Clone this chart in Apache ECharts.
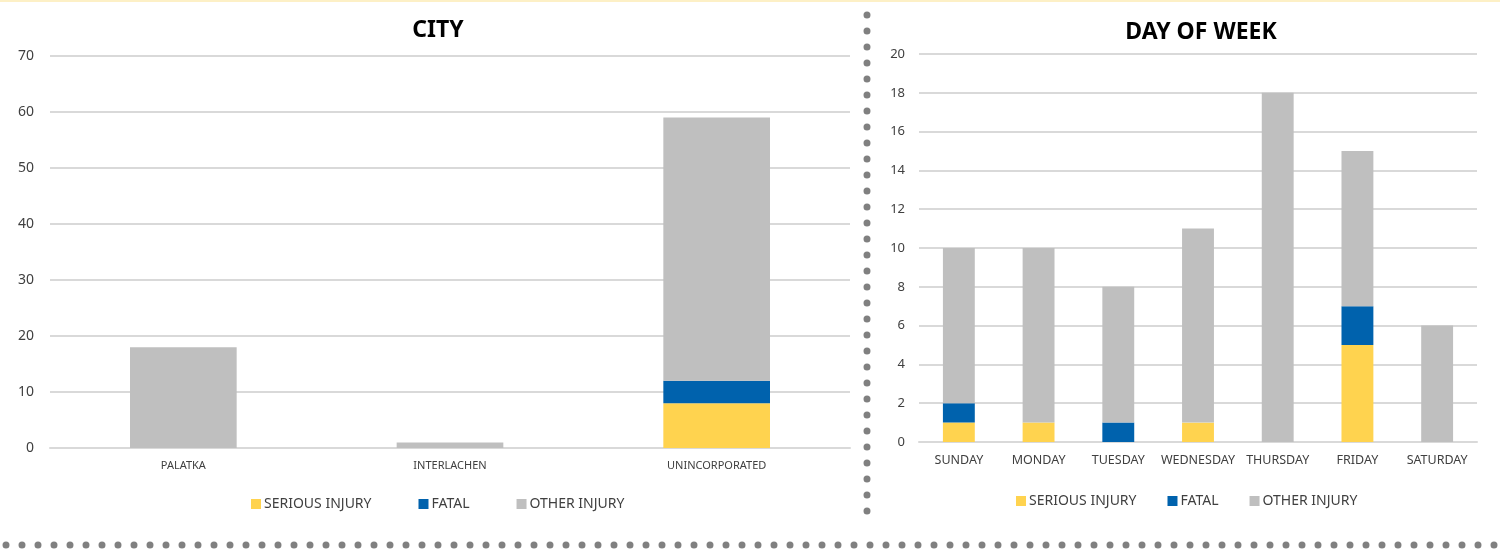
<!DOCTYPE html>
<html><head><meta charset="utf-8">
<script src="https://cdn.jsdelivr.net/npm/echarts@6/dist/echarts.min.js"></script>
<style>html,body{margin:0;padding:0;background:#fff}#c{width:1500px;height:550px}</style>
</head><body><div id="c"></div>
<script>
const cityCategories = ['PALATKA', 'INTERLACHEN', 'UNINCORPORATED'];
const citySerious = [0, 0, 8];
const cityFatal = [0, 0, 4];
const cityOther = [18, 1, 47];

const dayCategories = ['SUNDAY', 'MONDAY', 'TUESDAY', 'WEDNESDAY', 'THURSDAY', 'FRIDAY', 'SATURDAY'];
const daySerious = [1, 1, 0, 1, 0, 5, 0];
const dayFatal = [1, 0, 1, 0, 0, 2, 0];
const dayOther = [8, 9, 7, 10, 18, 8, 6];

const seriesNames = ['SERIOUS INJURY', 'FATAL', 'OTHER INJURY'];
const colors = ['#FFD34F', '#0062AD', '#BFBFBF'];
const FONT = 'Noto Sans';
const chart = echarts.init(document.getElementById('c'));

function mk(name, data, idx, stack, color) {
  return { name, type: 'bar', stack, xAxisIndex: idx, yAxisIndex: idx, data,
    barWidth: '40%', itemStyle: { color }, emphasis: { disabled: true } };
}
const dotStyle = { stroke: '#808080', lineWidth: 7, lineCap: 'round', lineDash: [0, 16] };

chart.setOption({
  animation: false,
  textStyle: { fontFamily: FONT },
  title: [
    { text: 'CITY', left: 433, top: 14, textAlign: 'center', textStyle: { fontFamily: FONT, fontSize: 23, fontWeight: 'bold', color: '#000' } },
    { text: 'DAY OF WEEK', left: 1196, top: 16, textAlign: 'center', textStyle: { fontFamily: FONT, fontSize: 23, fontWeight: 'bold', color: '#000' } }
  ],
  legend: [
    { data: seriesNames, left: 246, top: 492, itemWidth: 10, itemHeight: 10, itemGap: 47, icon: 'rect',
      textStyle: { fontFamily: FONT, fontSize: 14, color: '#404040', padding: [0, 0, 0, -2] } },
    { data: seriesNames, left: 1011, top: 489, itemWidth: 10, itemHeight: 10, itemGap: 31, icon: 'rect',
      textStyle: { fontFamily: FONT, fontSize: 14, color: '#404040', padding: [0, 0, 0, -2] } }
  ],
  grid: [
    { left: 50, right: 650, top: 56, bottom: 102 },
    { left: 919, right: 23, top: 54, bottom: 108 }
  ],
  xAxis: [
    { type: 'category', gridIndex: 0, data: cityCategories,
      axisLine: { lineStyle: { color: '#D9D9D9', width: 2 } }, axisTick: { show: false },
      axisLabel: { fontSize: 11, color: '#404040', margin: 12, fontFamily: FONT, interval: 0 } },
    { type: 'category', gridIndex: 1, data: dayCategories,
      axisLine: { lineStyle: { color: '#D9D9D9', width: 2 } }, axisTick: { show: false },
      axisLabel: { fontSize: 12.5, color: '#404040', margin: 12, fontFamily: FONT, interval: 0, hideOverlap: false } }
  ],
  yAxis: [
    { type: 'value', gridIndex: 0, min: 0, max: 70, interval: 10,
      axisLine: { show: false }, axisTick: { show: false },
      splitLine: { lineStyle: { color: '#D9D9D9', width: 2 } },
      axisLabel: { fontSize: 14, color: '#404040', margin: 16, fontFamily: FONT } },
    { type: 'value', gridIndex: 1, min: 0, max: 20, interval: 2,
      axisLine: { show: false }, axisTick: { show: false },
      splitLine: { lineStyle: { color: '#D9D9D9', width: 2 } },
      axisLabel: { fontSize: 13, color: '#404040', margin: 14, fontFamily: FONT } }
  ],
  series: [
    mk(seriesNames[0], citySerious, 0, 'city', colors[0]),
    mk(seriesNames[1], cityFatal, 0, 'city', colors[1]),
    mk(seriesNames[2], cityOther, 0, 'city', colors[2]),
    mk(seriesNames[0], daySerious, 1, 'day', colors[0]),
    mk(seriesNames[1], dayFatal, 1, 'day', colors[1]),
    mk(seriesNames[2], dayOther, 1, 'day', colors[2])
  ],
  graphic: [
    { type: 'rect', shape: { x: 0, y: 0, width: 1500, height: 2 }, style: { fill: '#FDF0C6' }, silent: true },
    { type: 'line', shape: { x1: 867, y1: 15, x2: 867, y2: 520 }, style: dotStyle, silent: true },
    { type: 'line', shape: { x1: 6, y1: 545, x2: 1500, y2: 545 }, style: dotStyle, silent: true }
  ]
});
</script></body></html>
